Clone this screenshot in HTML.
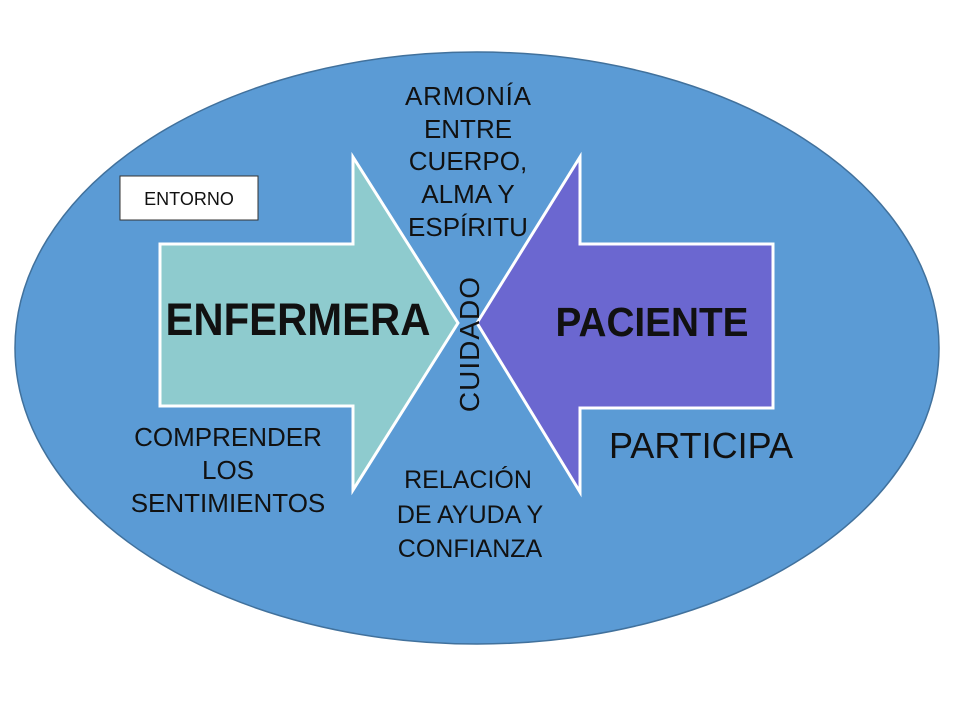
<!DOCTYPE html>
<html><head><meta charset="utf-8"><style>
body{margin:0;width:960px;height:720px;background:#fff;overflow:hidden}
svg text{font-family:"Liberation Sans",sans-serif;fill:#111}
</style></head><body>
<svg width="960" height="720" viewBox="0 0 960 720">
<ellipse cx="477" cy="348" rx="462" ry="296" fill="#5b9bd5" stroke="#41719c" stroke-width="1.5"/>
<polygon points="160,244 353,244 353,157 458,323 353,490 353,406 160,406" fill="#8ecbce" stroke="#fff" stroke-width="3"/>
<polygon points="773,244 580,244 580,157 477,323 580,492 580,408 773,408" fill="#6b67d0" stroke="#fff" stroke-width="3"/>
<rect x="120" y="176" width="138" height="44" fill="#fff" stroke="#333" stroke-width="1"/>
<text x="189" y="205" font-size="18" text-anchor="middle">ENTORNO</text>
<g font-size="26" text-anchor="middle">
<text x="468" y="105" textLength="126">ARMONÍA</text>
<text x="468" y="138">ENTRE</text>
<text x="468" y="170">CUERPO,</text>
<text x="468" y="203">ALMA  Y</text>
<text x="468" y="236">ESPÍRITU</text>
<text x="228" y="446">COMPRENDER</text>
<text x="228" y="479">LOS</text>
<text x="228" y="512">SENTIMIENTOS</text>
</g>
<g font-size="25" text-anchor="middle">
<text x="468" y="488">RELACIÓN</text>
<text x="470" y="523">DE AYUDA Y</text>
<text x="470" y="557">CONFIANZA</text>
</g>
<text transform="translate(479,344) rotate(-90)" font-size="28" text-anchor="middle" letter-spacing="1">CUIDADO</text>
<text x="298" y="335" font-size="45" font-weight="bold" text-anchor="middle" textLength="265" lengthAdjust="spacingAndGlyphs">ENFERMERA</text>
<text x="652" y="336" font-size="41" font-weight="bold" text-anchor="middle" textLength="193" lengthAdjust="spacingAndGlyphs">PACIENTE</text>
<text x="701" y="458" font-size="36" text-anchor="middle">PARTICIPA</text>
</svg>
</body></html>
